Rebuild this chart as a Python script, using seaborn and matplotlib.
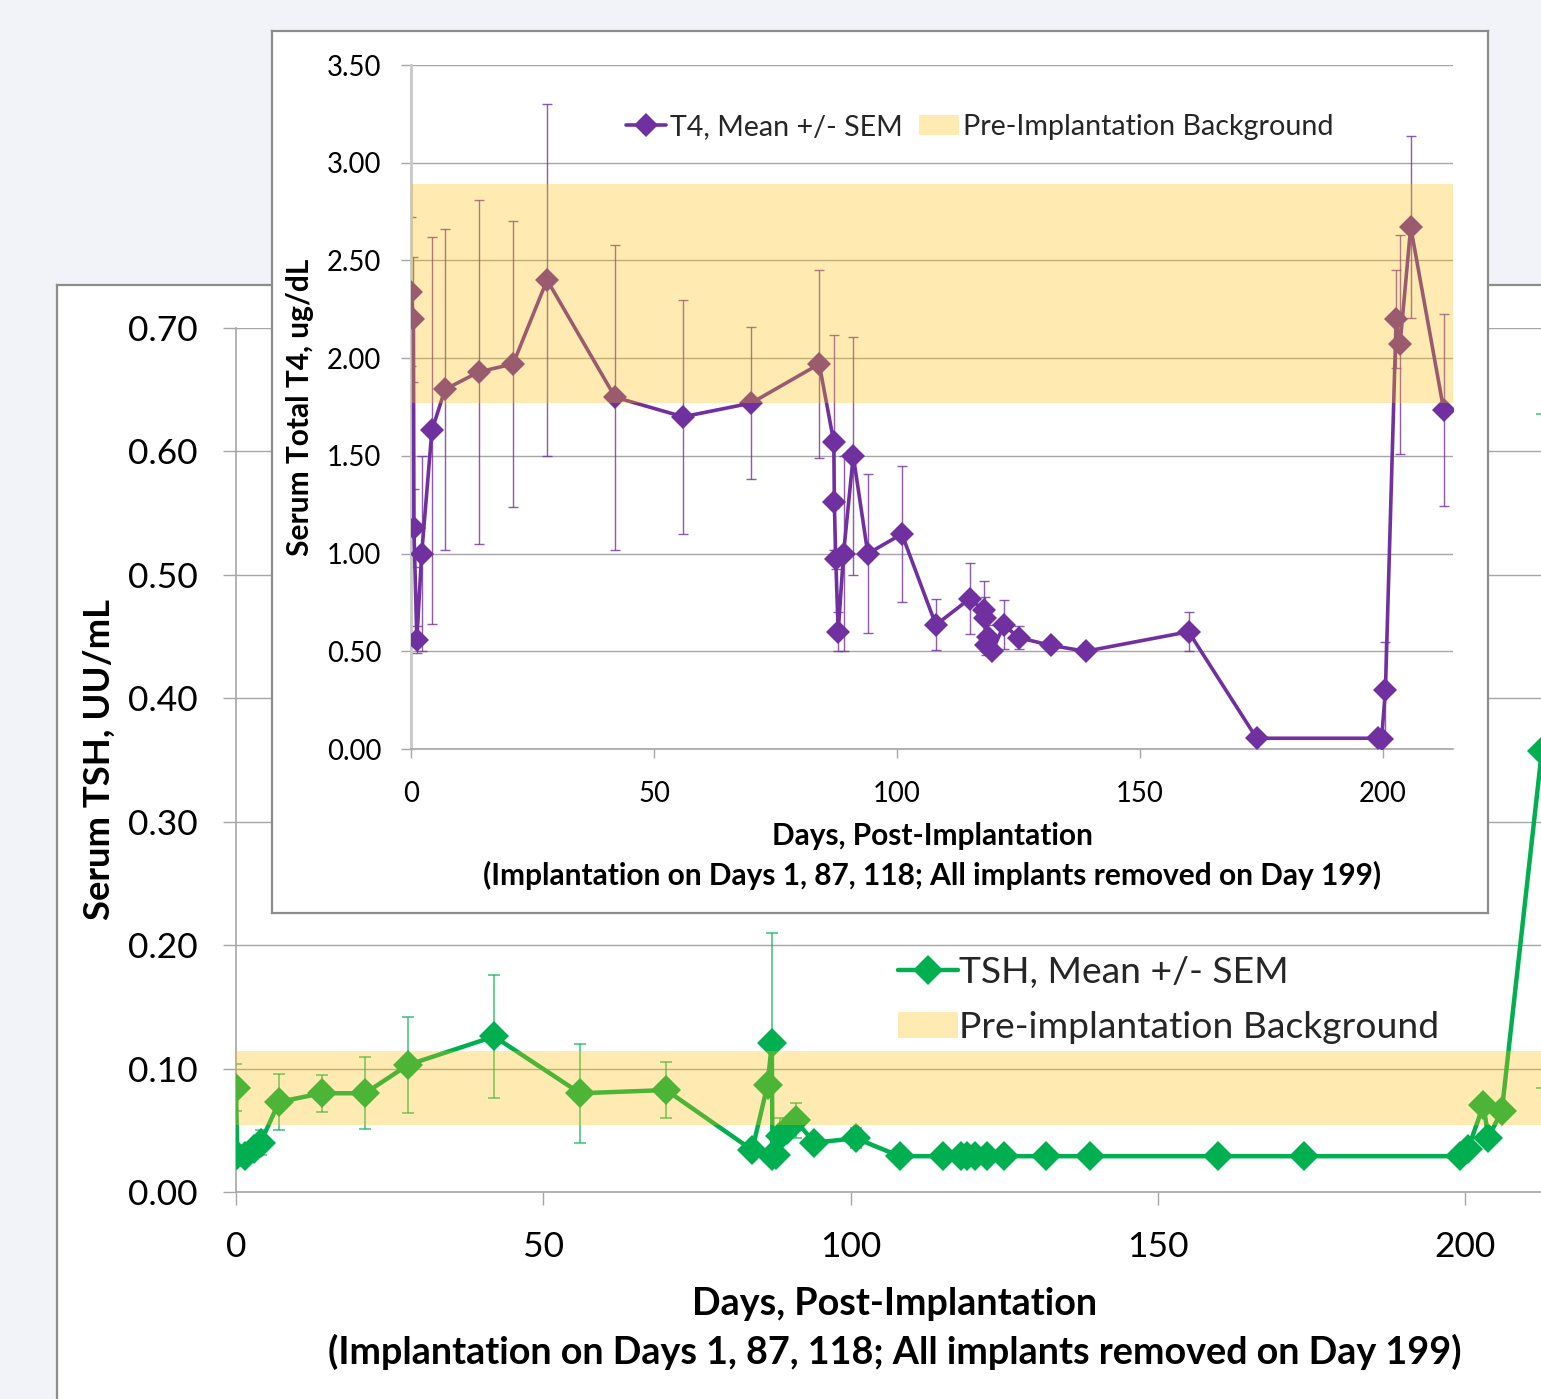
import matplotlib
matplotlib.use('Agg')
import matplotlib.pyplot as plt
import seaborn as sns
import numpy as np
from matplotlib.lines import Line2D
from matplotlib.patches import Patch
from matplotlib.ticker import FormatStrFormatter

# ---------------- data ----------------
# Serum TSH (main chart)
tsh_days = [0, 0.2, 1.5, 3, 4, 7, 14, 21, 28, 42, 56, 70, 84, 86.5, 87.2, 87.3, 87.8,
            88.6, 89.6, 91.1, 94.1, 100.9, 108, 115, 118, 119, 120.3, 122.2, 125,
            131.8, 139, 159.8, 173.8, 199.2, 200.5, 203, 203.8, 206, 212.5]
tsh_mean = [0.0845, 0.030, 0.029, 0.035, 0.040, 0.073, 0.080, 0.080, 0.103, 0.126,
            0.080, 0.0826, 0.034, 0.0867, 0.1205, 0.029, 0.030, 0.045, 0.050, 0.058,
            0.040, 0.0435, 0.029, 0.029, 0.029, 0.029, 0.029, 0.029, 0.029, 0.029,
            0.029, 0.029, 0.029, 0.029, 0.035, 0.0705, 0.044, 0.066, 0.357]
tsh_sem = [0.019, 0.0, 0.0, 0.003, 0.010, 0.023, 0.015, 0.029, 0.039, 0.050,
           0.040, 0.023, 0.002, 0.004, 0.089, 0.0, 0.0, 0.015, 0.006, 0.0145,
           0.003, 0.008, 0.0, 0.0, 0.0, 0.0, 0.0, 0.0, 0.0, 0.0,
           0.0, 0.0, 0.0, 0.0, 0.002, 0.004, 0.003, 0.004, 0.273]
tsh_band = (0.054, 0.1145)

# Serum total T4 (inset chart)
t4_days = [0, 0.5, 0.6, 1.2, 2.2, 4.3, 7, 14, 21, 28, 42, 56, 70, 84, 87, 87.1,
           87.4, 87.9, 89, 91, 94, 101, 108, 115, 117.8, 118.1, 118.3, 118.8, 119.6,
           122, 125, 131.7, 138.8, 160, 174, 199, 199.7, 200.5, 202.7, 203.5, 205.7,
           212.5]
t4_mean = [2.34, 2.20, 1.13, 0.56, 1.00, 1.63, 1.84, 1.93, 1.97, 2.40, 1.80, 1.70,
           1.77, 1.97, 1.57, 1.265, 0.97, 0.60, 1.00, 1.50, 1.00, 1.10, 0.635, 0.77,
           0.71, 0.67, 0.53, 0.575, 0.50, 0.635, 0.57, 0.53, 0.50, 0.60, 0.055,
           0.055, 0.05, 0.30, 2.20, 2.07, 2.67, 1.735]
t4_sem = [0.38, 0.32, 0.20, 0.07, 0.50, 0.99, 0.82, 0.88, 0.73, 0.90, 0.78, 0.60,
          0.39, 0.48, 0.55, 0.03, 0.05, 0.10, 0.50, 0.61, 0.405, 0.35, 0.13, 0.18,
          0.15, 0.11, 0.05, 0.06, 0.02, 0.125, 0.06, 0.02, 0.01, 0.10, 0.0,
          0.0, 0.0, 0.25, 0.25, 0.56, 0.465, 0.49]
t4_band = (1.77, 2.89)

x_ticks = [0, 50, 100, 150, 200]
tsh_ticks = [0.0, 0.1, 0.2, 0.3, 0.4, 0.5, 0.6, 0.7]
t4_ticks = [0.0, 0.5, 1.0, 1.5, 2.0, 2.5, 3.0, 3.5]

xlabel_txt = 'Days, Post-Implantation\n(Implantation on Days 1, 87, 118; All implants removed on Day 199)'

# ---------------- style ----------------
sns.set_theme(style='white')
plt.rcParams['font.family'] = ['Lato', 'DejaVu Sans']

TSH_C = '#00B050'
T4_C = '#7030A0'
BAND_C = '#FFC000'
GRID_C = '#A6A6A6'
BORDER_C = '#8C8C8C'

W, H = 1541, 1399
fig = plt.figure(figsize=(W / 100, H / 100), dpi=100, facecolor='#F1F3F8')


def box(x0, y0, x1, y1):
    return [x0 / W, 1 - y1 / H, (x1 - x0) / W, (y1 - y0) / H]


def panel(rect):
    p = fig.add_axes(rect)
    p.set_facecolor('white')
    p.set_xticks([])
    p.set_yticks([])
    for s in p.spines.values():
        s.set_visible(True)
        s.set_color(BORDER_C)
        s.set_linewidth(1.6)
    return p


# main panel (extends beyond the right and bottom edges)
panel(box(57, 285, 1650, 1500))

# ---------------- main TSH axes ----------------
XMAX = 214.5
axm = fig.add_axes(box(236, 328, 236 + XMAX * 6.145, 1192))
axm.set_facecolor('none')
sns.lineplot(x=tsh_days, y=tsh_mean, sort=False, estimator=None, color=TSH_C,
             marker='D', markersize=15.5, markeredgewidth=0, linewidth=3.2,
             ax=axm, zorder=3)
axm.errorbar(tsh_days, tsh_mean, yerr=tsh_sem, fmt='none', ecolor=TSH_C,
             elinewidth=1.2, capsize=4, capthick=1.2, alpha=0.7, zorder=2)
axm.axhspan(*tsh_band, color=BAND_C, alpha=0.3, lw=0, zorder=4)
axm.set_xlim(0, XMAX)
axm.set_ylim(0, 0.70)
axm.set_xticks(x_ticks)
axm.set_yticks(tsh_ticks)
axm.yaxis.set_major_formatter(FormatStrFormatter('%.2f'))
axm.yaxis.grid(True, color=GRID_C, lw=1)
axm.xaxis.grid(False)
for s in ['top', 'right']:
    axm.spines[s].set_visible(False)
for s in ['left', 'bottom']:
    axm.spines[s].set_color(GRID_C)
    axm.spines[s].set_linewidth(1.2)
axm.tick_params(axis='y', left=True, direction='out', length=9.4, width=1,
                color=GRID_C, pad=18, labelsize=25.5, labelcolor='black')
axm.tick_params(axis='x', bottom=True, direction='out', length=9.4, width=1,
                color=GRID_C, pad=19, labelsize=25.5, labelcolor='black')
axm.set_xlabel(xlabel_txt, fontsize=27.2, fontweight='bold', linespacing=1.45,
               color='black')
axm.xaxis.set_label_coords(0.5, -0.158)
axm.xaxis.label.set_va('center')
axm.set_ylabel('Serum TSH, UU/mL', fontsize=26.3, fontweight='bold', color='black')
axm.yaxis.set_label_coords(-0.104, 0.5)
axm.yaxis.label.set_va('center')

h_main = [Line2D([], [], color=TSH_C, marker='D', ms=15.5, mew=0, lw=3.2),
          Patch(facecolor=BAND_C, alpha=0.3, lw=0)]
lg = axm.legend(h_main, ['TSH, Mean +/- SEM', 'Pre-implantation Background'],
                loc='upper left', bbox_to_anchor=(898 / W, 1 - 956 / H),
                bbox_transform=fig.transFigure, frameon=False, fontsize=26.8,
                handlelength=1.6, handletextpad=0.05, labelspacing=0.6,
                borderpad=0, borderaxespad=0)
lg.set_zorder(6)

# ---------------- inset panel + T4 axes ----------------
panel(box(272, 31, 1488, 913))

axi = fig.add_axes(box(411, 65, 411 + XMAX * 4.86, 749))
axi.set_facecolor('none')
sns.lineplot(x=t4_days, y=t4_mean, sort=False, estimator=None, color=T4_C,
             marker='D', markersize=12.5, markeredgewidth=0, linewidth=2.6,
             ax=axi, zorder=3)
axi.errorbar(t4_days, t4_mean, yerr=t4_sem, fmt='none', ecolor=T4_C,
             elinewidth=1.0, capsize=3.6, capthick=1.0, alpha=0.8, zorder=2)
axi.axhspan(*t4_band, color=BAND_C, alpha=0.3, lw=0, zorder=4)
axi.set_xlim(0, XMAX)
axi.set_ylim(0, 3.5)
axi.set_xticks(x_ticks)
axi.set_yticks(t4_ticks)
axi.yaxis.set_major_formatter(FormatStrFormatter('%.2f'))
axi.yaxis.grid(True, color=GRID_C, lw=1)
axi.xaxis.grid(False)
for s in ['top', 'right']:
    axi.spines[s].set_visible(False)
axi.spines['left'].set_color('#C8C8C8')
axi.spines['left'].set_linewidth(2)
axi.spines['bottom'].set_color(GRID_C)
axi.spines['bottom'].set_linewidth(1.2)
axi.tick_params(axis='y', left=True, direction='out', length=7.2, width=1,
                color=GRID_C, pad=14, labelsize=19.8, labelcolor='black')
axi.tick_params(axis='x', bottom=True, direction='out', length=6.8, width=1,
                color=GRID_C, pad=16, labelsize=19.8, labelcolor='black')
axi.set_xlabel(xlabel_txt, fontsize=21.5, fontweight='bold', linespacing=1.45,
               color='black')
axi.xaxis.set_label_coords(0.5, -0.157)
axi.xaxis.label.set_va('center')
axi.set_ylabel('Serum Total T4, ug/dL', fontsize=21.5, fontweight='bold',
               color='black')
axi.yaxis.set_label_coords(-0.1065, 0.5)
axi.yaxis.label.set_va('center')

h_in = [Line2D([], [], color=T4_C, marker='D', ms=12.5, mew=0, lw=2.6),
        Patch(facecolor=BAND_C, alpha=0.3, lw=0)]
lgi = axi.legend(h_in, ['T4, Mean +/- SEM', 'Pre-Implantation Background'],
                 loc='center left', bbox_to_anchor=(626 / W, 1 - 127 / H),
                 bbox_transform=fig.transFigure, frameon=False, fontsize=20.6,
                 ncol=2, handlelength=1.4, handletextpad=0.15,
                 columnspacing=0.55, borderpad=0, borderaxespad=0)
lgi.set_zorder(6)

fig.savefig('out.png', dpi=100, facecolor=fig.get_facecolor())
